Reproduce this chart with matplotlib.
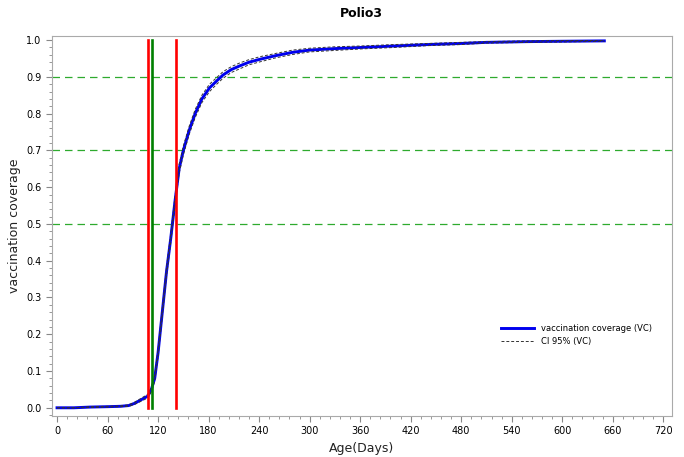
import matplotlib
matplotlib.use("Agg")
import matplotlib.pyplot as plt
from matplotlib.ticker import MultipleLocator, FormatStrFormatter

# --- data ---
days = [0, 20, 40, 60, 75, 85, 92, 100, 108, 112, 116, 120, 125, 130, 135, 140,
        145, 150, 157, 164, 172, 181, 190, 197, 207, 217, 228, 241, 260, 280,
        300, 330, 360, 400, 440, 480, 510, 560, 600, 650]
vc = [0.0, 0.0, 0.002, 0.003, 0.004, 0.006, 0.012, 0.022, 0.032, 0.05, 0.08,
      0.15, 0.26, 0.37, 0.46, 0.56, 0.65, 0.70, 0.755, 0.80, 0.84, 0.87, 0.89,
      0.905, 0.92, 0.93, 0.94, 0.948, 0.958, 0.967, 0.973, 0.977, 0.98, 0.984,
      0.988, 0.991, 0.994, 0.996, 0.997, 0.998]
ci_w = [0.0, 0.0, 0.001, 0.001, 0.001, 0.002, 0.003, 0.004, 0.005, 0.006, 0.008,
        0.01, 0.011, 0.012, 0.012, 0.012, 0.012, 0.012, 0.011, 0.011, 0.01,
        0.01, 0.009, 0.009, 0.008, 0.008, 0.007, 0.007, 0.006, 0.006, 0.005,
        0.005, 0.004, 0.004, 0.003, 0.003, 0.002, 0.002, 0.002, 0.001]
ref_levels = [0.5, 0.7, 0.9]
red_days = [108, 141]
green_day = 112.5

ci_lo = [v - w for v, w in zip(vc, ci_w)]
ci_hi = [min(v + w, 1.0) for v, w in zip(vc, ci_w)]

fig = plt.figure(figsize=(6.84, 4.57), dpi=100)
ax = fig.add_axes([0.076, 0.09, 0.906, 0.831])

for lv in ref_levels:
    ax.axhline(lv, color="#2eaa2e", lw=0.9, dashes=(6, 4), zorder=1)

ax.plot(days, vc, color="#0000ee", lw=2.1, zorder=3, label="vaccination coverage (VC)")
ax.plot(days, ci_lo, color="#333333", lw=0.7, ls=(0, (3, 2)), zorder=4, label="CI 95% (VC)")
ax.plot(days, ci_hi, color="#333333", lw=0.7, ls=(0, (3, 2)), zorder=4)

for d in red_days:
    ax.plot([d, d], [0, 1], color="#ff0000", lw=1.9, zorder=5)
ax.plot([green_day, green_day], [0, 1], color="#008000", lw=1.9, zorder=5)

ax.set_xlim(-6, 730)
ax.set_ylim(-0.022, 1.011)
ax.xaxis.set_major_locator(MultipleLocator(60))
ax.xaxis.set_minor_locator(MultipleLocator(12))
ax.yaxis.set_major_locator(MultipleLocator(0.1))
ax.yaxis.set_minor_locator(MultipleLocator(0.02))
ax.yaxis.set_major_formatter(FormatStrFormatter("%.1f"))
ax.tick_params(axis="both", which="major", labelsize=7, length=4, color="#888888", direction="out")
ax.tick_params(axis="both", which="minor", length=2, color="#888888", direction="out")
for s in ax.spines.values():
    s.set_color("#aaaaaa")
    s.set_linewidth(0.8)

ax.set_xlabel("Age(Days)", fontsize=9, color="#222222")
ax.set_ylabel("vaccination coverage", fontsize=9, color="#222222")
ax.set_title("Polio3", fontsize=9, fontweight="bold", pad=14)

ax.legend(loc="lower right", bbox_to_anchor=(0.98, 0.165), frameon=False,
          fontsize=6, handlelength=4, labelspacing=0.4)

fig.savefig("out.png", dpi=100)
